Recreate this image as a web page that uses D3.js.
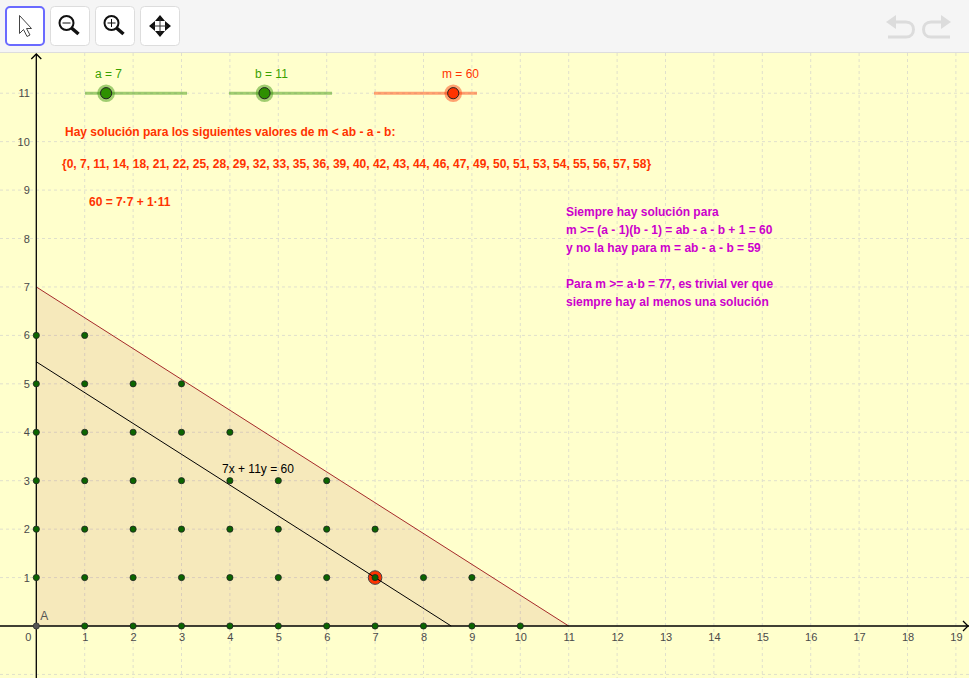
<!DOCTYPE html>
<html lang="es">
<head>
<meta charset="UTF-8">
<title>7x + 11y = 60</title>
<style>
  html, body { margin: 0; padding: 0; background: #fff; }
  svg { display: block; }
  text { font-family: "Liberation Sans", Arial, sans-serif; }
</style>
</head>
<body>
<div id="chart"></div>
<script src="https://d3js.org/d3.v7.min.js"></script>
<script>
// datos
const xTicks = d3.range(0, 20);
const yTicks = d3.range(0, 12);
const rowMaxX = [10, 9, 7, 6, 4, 3, 1];          // ultimo punto de cada fila y = 0..6
const triangle = [[0, 0], [11, 0], [0, 7]];
const lineM = [[0, 60 / 11], [60 / 7, 0]];
const solution = [7, 1];
const sliderNames = ["a", "b", "m"];
const sliderValues = [7, 11, 60];
const sliderDomains = [[1, 30], [1, 30], [0, 78]];
const redLines = [
  "Hay solución para los siguientes valores de m < ab - a - b:",
  "{0, 7, 11, 14, 18, 21, 22, 25, 28, 29, 32, 33, 35, 36, 39, 40, 42, 43, 44, 46, 47, 49, 50, 51, 53, 54, 55, 56, 57, 58}",
  "60 = 7·7 + 1·11"
];
const magentaLines = [
  "Siempre hay solución para",
  "m >= (a - 1)(b - 1) = ab - a - b + 1 = 60",
  "y no la hay para m = ab - a - b = 59",
  "Para m >= a·b = 77, es trivial ver que",
  "siempre hay al menos una solución"
];

const W = 969, H = 678, toolbarH = 52;
const green = "#2e9000", greenLabel = "#39a000", red = "#ff3300", magenta = "#cc00cc", brown = "#a52a2a";

const svg = d3.select("#chart").append("svg").attr("width", 971).attr("height", 680);
svg.append("rect").attr("width", 971).attr("height", 680).attr("fill", "#fff");
svg.append("rect").attr("y", toolbarH).attr("width", W).attr("height", H - toolbarH).attr("fill", "#ffffcc");

const x = d3.scaleLinear().domain([0, 19]).range([36.3, 955.9]);
const y = d3.scaleLinear().domain([0, 11]).range([626, 93.2]);

// rejilla
const grid = svg.append("g").attr("stroke", "#e0e0cc").attr("stroke-dasharray", "3,3");
const xGrid = d3.range(1, 20);
const yGrid = [-1].concat(d3.range(1, 12));
grid.selectAll(".gx").data(xGrid).join("line")
  .attr("x1", d => x(d)).attr("x2", d => x(d))
  .attr("y1", toolbarH + 1).attr("y2", H);
grid.selectAll(".gy").data(yGrid).join("line")
  .attr("x1", 0).attr("x2", W)
  .attr("y1", d => y(d)).attr("y2", d => y(d));

// triangulo
const path = d3.line().x(d => x(d[0])).y(d => y(d[1]));
svg.append("path").attr("d", path(triangle) + "Z").attr("fill", brown).attr("fill-opacity", 0.1);
svg.append("path").attr("d", path([triangle[1], triangle[2]])).attr("stroke", brown).attr("fill", "none");

// solucion, debajo de la recta y del punto
svg.append("circle").attr("cx", x(solution[0])).attr("cy", y(solution[1])).attr("r", 6.8)
  .attr("fill", red).attr("stroke", "#444").attr("stroke-width", 1);
svg.append("path").attr("d", path(lineM)).attr("stroke", "#000").attr("fill", "none");

// ejes
const axes = svg.append("g").attr("stroke", "#000").attr("fill", "none").attr("stroke-width", 1.3);
axes.append("line").attr("x1", 0).attr("x2", W).attr("y1", y(0)).attr("y2", y(0));
axes.append("line").attr("x1", x(0)).attr("x2", x(0)).attr("y1", toolbarH + 2).attr("y2", H);
axes.append("path").attr("d", `M${x(0) - 5},${toolbarH + 7}L${x(0)},${toolbarH + 2}L${x(0) + 5},${toolbarH + 7}`);
axes.append("path").attr("d", `M${W - 6},${y(0) - 5}L${W - 1},${y(0)}L${W - 6},${y(0) + 5}`);

const tickColor = "#4a4a4a";
svg.append("g").attr("font-size", 11).attr("fill", tickColor).attr("text-anchor", "middle")
  .selectAll("text").data(xTicks).join("text")
  .attr("x", d => d === 0 ? x(0) - 8 : x(d) + 0.5).attr("y", y(0) + 14.5).text(d => d);
svg.append("g").attr("font-size", 11).attr("fill", tickColor).attr("text-anchor", "end")
  .selectAll("text").data(yTicks.slice(1)).join("text")
  .attr("x", x(0) - 6.5).attr("y", d => y(d) + 4).text(d => d);

// puntos enteros
const dots = rowMaxX.flatMap((mx, j) => d3.range(0, mx + 1).map(i => [i, j]));
svg.append("g").selectAll("circle").data(dots.filter(d => d[0] + d[1] > 0)).join("circle")
  .attr("cx", d => x(d[0])).attr("cy", d => y(d[1])).attr("r", 3.1)
  .attr("fill", "#0b6400").attr("stroke", "#222").attr("stroke-width", 0.8);

// origen A
svg.append("circle").attr("cx", x(0)).attr("cy", y(0)).attr("r", 3.1)
  .attr("fill", "#555").attr("stroke", "#333").attr("stroke-width", 0.8);
svg.append("text").attr("x", x(0) + 4).attr("y", y(0) - 6).attr("font-size", 12).attr("fill", "#555").text("A");
svg.append("text").attr("x", 222).attr("y", 473).attr("font-size", 12).attr("fill", "#000").text("7x + 11y = 60");

// deslizadores
const sliderRanges = [[85, 187], [229, 332], [374, 477]];
const sliderColors = [green, green, red];
const sliderLabelColors = [greenLabel, greenLabel, red];
const sliderLabelX = [95, 255, 442];
sliderNames.forEach((name, i) => {
  const s = d3.scaleLinear().domain(sliderDomains[i]).range(sliderRanges[i]);
  const g = svg.append("g");
  g.append("line").attr("x1", sliderRanges[i][0]).attr("x2", sliderRanges[i][1])
    .attr("y1", y(11)).attr("y2", y(11))
    .attr("stroke", sliderColors[i]).attr("stroke-opacity", 0.45).attr("stroke-width", 3);
  g.append("circle").attr("cx", s(sliderValues[i])).attr("cy", y(11)).attr("r", 8.8)
    .attr("fill", sliderColors[i]).attr("fill-opacity", 0.45);
  g.append("circle").attr("cx", s(sliderValues[i])).attr("cy", y(11)).attr("r", 5.6)
    .attr("fill", sliderColors[i]).attr("stroke", "#222").attr("stroke-width", 1);
  g.append("text").attr("x", sliderLabelX[i]).attr("y", 78)
    .attr("font-size", 12).attr("fill", sliderLabelColors[i]).text(`${name} = ${sliderValues[i]}`);
});

// textos
const redPos = [[65, 136], [62, 168], [89, 206]];
svg.append("g").attr("font-size", 12).attr("font-weight", "bold").attr("fill", red)
  .selectAll("text").data(redLines).join("text")
  .attr("x", (d, i) => redPos[i][0]).attr("y", (d, i) => redPos[i][1]).text(d => d);
const magY = [216, 234, 252, 288, 306];
svg.append("g").attr("font-size", 12).attr("font-weight", "bold").attr("fill", magenta)
  .selectAll("text").data(magentaLines).join("text")
  .attr("x", 566).attr("y", (d, i) => magY[i]).text(d => d);

// barra de herramientas
svg.append("rect").attr("width", W).attr("height", toolbarH).attr("fill", "#f5f5f5");
svg.append("line").attr("x1", 0).attr("x2", W).attr("y1", toolbarH + 0.5).attr("y2", toolbarH + 0.5).attr("stroke", "#ddd");
const buttons = [5, 50, 95, 140];
svg.append("g").selectAll("rect").data(buttons).join("rect")
  .attr("x", (d, i) => d + (i === 0 ? 1 : 0.5)).attr("y", (d, i) => i === 0 ? 7 : 6.5)
  .attr("width", (d, i) => i === 0 ? 38 : 39).attr("height", (d, i) => i === 0 ? 38 : 39).attr("rx", 4)
  .attr("fill", "#fff")
  .attr("stroke", (d, i) => i === 0 ? "#6a6aff" : "#ddd")
  .attr("stroke-width", (d, i) => i === 0 ? 2 : 1);
// flecha
svg.append("path").attr("d", "M19.5,15.5V33.5L23.5,29.5L27,36.5L30,35L26.5,28.5H31.5Z")
  .attr("fill", "#fff").attr("stroke", "#444").attr("stroke-width", 1);
// lupas
[[66.5, false], [111.5, true]].forEach(([cx, plus]) => {
  const g = svg.append("g").attr("fill", "none").attr("stroke", "#111");
  g.append("circle").attr("cx", cx).attr("cy", 23).attr("r", 7).attr("stroke-width", 2);
  g.append("line").attr("x1", cx - 4).attr("x2", cx + 4).attr("y1", 23).attr("y2", 23);
  if (plus) g.append("line").attr("x1", cx).attr("x2", cx).attr("y1", 19).attr("y2", 27);
  g.append("line").attr("x1", cx + 5).attr("y1", 28).attr("x2", cx + 12).attr("y2", 34).attr("stroke-width", 3.5);
});
// mover
const mv = svg.append("g").attr("fill", "#111");
mv.append("path").attr("d", "M160,15L165,21H155Z M160,37L165,31H155Z M149,26L155,21V31Z M171,26L165,21V31Z");
mv.append("path").attr("d", "M160,19V33M153,26H167").attr("stroke", "#333").attr("fill", "none");
// deshacer / rehacer
const ur = svg.append("g").attr("fill", "none").attr("stroke", "#dcdcdc").attr("stroke-width", 3);
ur.append("path").attr("d", "M893,22H906C916,22 916,37 906,37H888");
ur.append("path").attr("d", "M944,22H931C921,22 921,37 931,37H950");
const urFill = svg.append("g").attr("fill", "#dcdcdc");
urFill.append("path").attr("d", "M886,22L896,15V29Z");
urFill.append("path").attr("d", "M951,22L941,15V29Z");
</script>
</body>
</html>
